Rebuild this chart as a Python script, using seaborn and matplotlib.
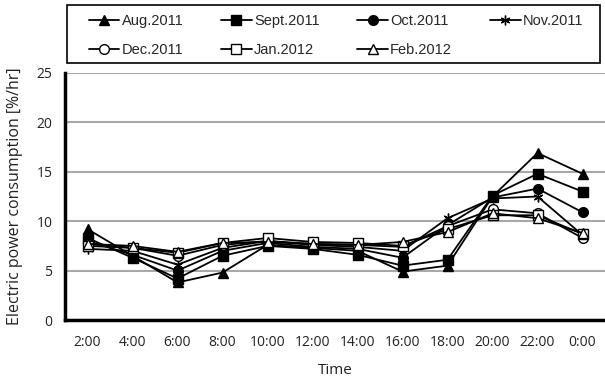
import matplotlib
matplotlib.use("Agg")
import matplotlib.pyplot as plt
import seaborn as sns
import pandas as pd
from matplotlib.lines import Line2D
from matplotlib.patches import Rectangle

times = ["2:00", "4:00", "6:00", "8:00", "10:00", "12:00", "14:00", "16:00",
         "18:00", "20:00", "22:00", "0:00"]
series_names = ["Aug.2011", "Sept.2011", "Oct.2011", "Nov.2011",
                "Dec.2011", "Jan.2012", "Feb.2012"]
aug = [9.2, 6.5, 3.8, 4.8, 7.6, 7.3, 7.0, 4.9, 5.5, 12.5, 16.9, 14.8]
sept = [8.3, 6.3, 4.2, 6.5, 7.5, 7.2, 6.6, 5.5, 6.1, 12.6, 14.8, 13.0]
octo = [8.0, 6.6, 5.0, 7.0, 7.8, 7.4, 7.2, 6.3, 9.6, 12.4, 13.3, 10.9]
nov = [7.2, 7.0, 5.6, 7.3, 8.0, 7.6, 7.4, 7.0, 10.3, 12.3, 12.5, 8.6]
dec = [7.7, 7.3, 6.5, 7.6, 8.0, 7.7, 7.6, 7.4, 9.5, 11.2, 10.8, 8.3]
jan = [7.5, 7.3, 6.8, 7.8, 8.3, 7.9, 7.8, 7.5, 9.2, 10.6, 10.6, 8.7]
feb = [7.7, 7.5, 6.9, 7.8, 7.9, 7.7, 7.6, 7.9, 8.9, 10.8, 10.3, 8.8]
values = [aug, sept, octo, nov, dec, jan, feb]

styles = [
    dict(marker="^", mfc="black"),
    dict(marker="s", mfc="black"),
    dict(marker="o", mfc="black"),
    dict(marker=(6, 2, 0), mfc="black"),
    dict(marker="o", mfc="white"),
    dict(marker="s", mfc="white"),
    dict(marker="^", mfc="white"),
]

sns.set_theme(style="white")
plt.rcParams["font.family"] = ["Open Sans", "DejaVu Sans"]

W, H = 605, 385
fig = plt.figure(figsize=(6.05, 3.85), dpi=100)
ax = fig.add_axes([65 / W, 1 - 320 / H, 540 / W, 247 / H])

handles = []
for name, vals, st in zip(series_names, values, styles):
    df = pd.DataFrame({"Time": times, "val": vals})
    sns.lineplot(data=df, x="Time", y="val", ax=ax, color="black", lw=1.3,
                 marker=st["marker"], markersize=7, markerfacecolor=st["mfc"],
                 markeredgecolor="black", markeredgewidth=1.0, sort=False,
                 zorder=3)
    handles.append(Line2D([], [], color="black", lw=1.3, marker=st["marker"],
                          markersize=7, markerfacecolor=st["mfc"],
                          markeredgecolor="black", markeredgewidth=1.0,
                          label=name))

ax.set_xlim(-0.5, len(times) - 0.5)
ax.set_ylim(0, 25)
ax.set_yticks([0, 5, 10, 15, 20, 25])
ax.yaxis.grid(True, color="#a8a8a8", lw=1.5)
ax.xaxis.grid(False)
ax.set_axisbelow(True)
for s in ["top", "right"]:
    ax.spines[s].set_visible(False)
for s in ["left", "bottom"]:
    ax.spines[s].set_color("black")
    ax.spines[s].set_linewidth(2.5)
ax.tick_params(axis="both", length=0, labelsize=10, colors="#222222")
ax.tick_params(axis="x", pad=11)
ax.tick_params(axis="y", pad=9)
ax.set_xlabel("Time", fontsize=11, color="#222222", labelpad=9)
ax.set_ylabel("Electric power consumption [%/hr]", fontsize=11.5,
              color="#222222", labelpad=10)

# legend frame drawn separately
fig.patches.append(Rectangle((67 / W, 1 - 63 / H), 533 / W, 58 / H,
                             transform=fig.transFigure, fill=False,
                             edgecolor="black", lw=1.2))

# column-major order so rows read Aug..Nov / Dec..Feb
order = [0, 4, 1, 5, 2, 6, 3]
leg = fig.legend(handles=[handles[i] for i in order], loc="upper left",
                 bbox_to_anchor=(80 / W, 1 - 5 / H, 512 / W, 0.0),
                 mode="expand", ncol=4, frameon=False,
                 handlelength=2.1, handletextpad=0.15,
                 borderaxespad=0, borderpad=0.6,
                 prop={"family": ["Liberation Sans"], "size": 10.5},
                 labelspacing=1.05)

fig.savefig("out.png", dpi=100)
